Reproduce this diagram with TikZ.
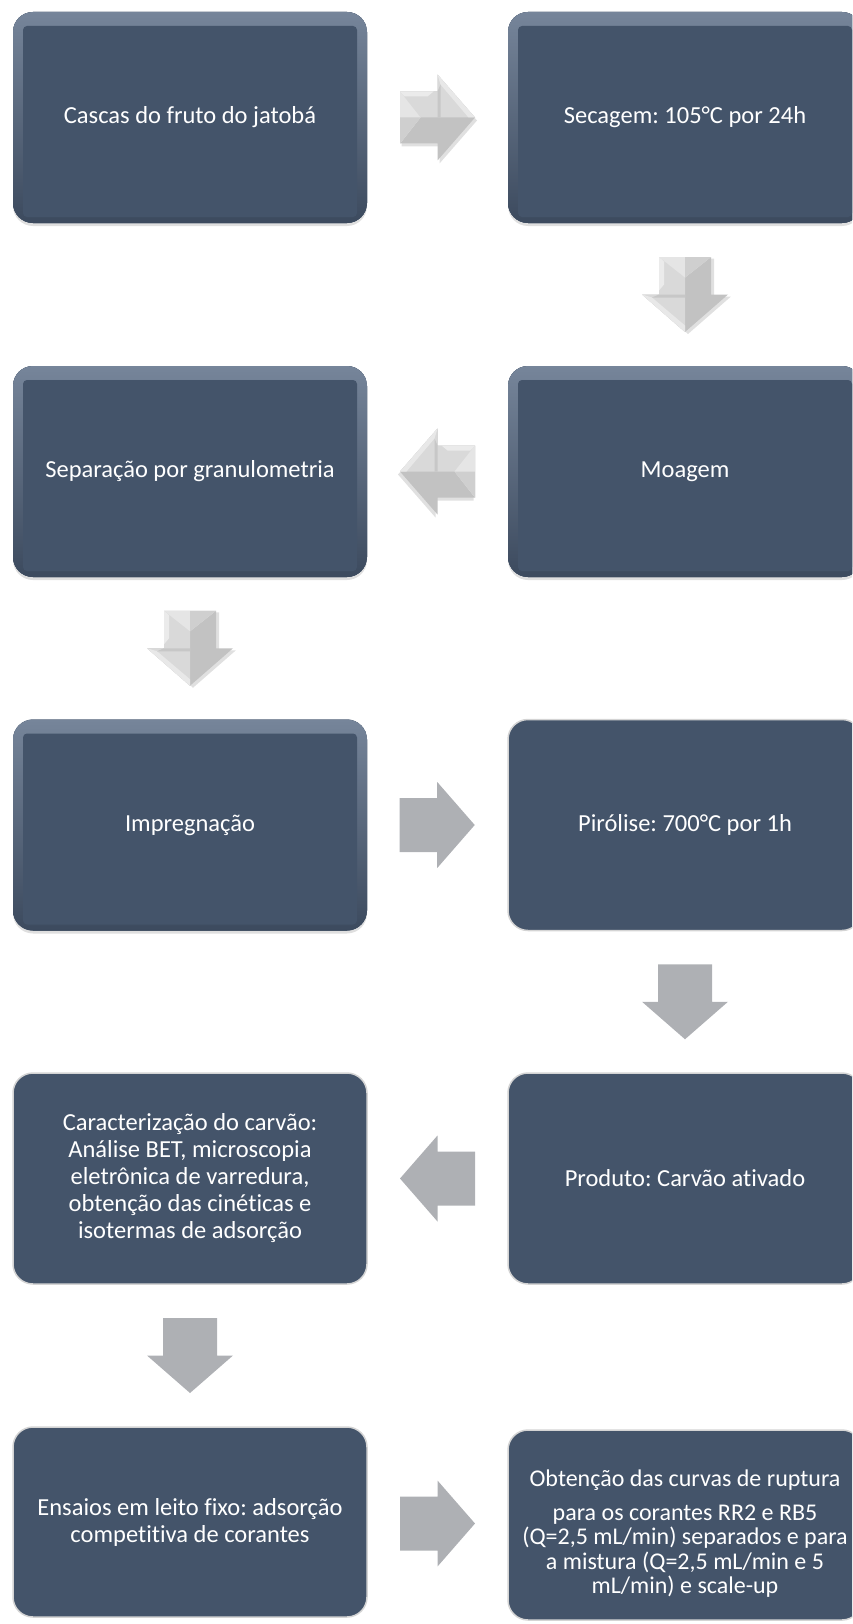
\documentclass[tikz,border=0pt]{standalone}
\usepackage{fontspec}
\setmainfont{Carlito}[Ligatures=NoCommon]
\frenchspacing
\usetikzlibrary{calc,shadows}
\definecolor{ardosia}{RGB}{68,84,106}
\definecolor{ardosiaclara}{RGB}{118,133,154}
\definecolor{ardosiaescura}{RGB}{60,74,94}
\definecolor{seta}{RGB}{174,176,180}
\definecolor{borda}{RGB}{212,212,212}

\tikzset{
  caixa/.style={fill=ardosia, rounded corners=20pt, minimum width=354pt, minimum height=211pt,
    align=center, text=white, font=\fontsize{24.5}{27}\selectfont},
  plana/.style={caixa, draw=borda, line width=1.5pt},
  relevo/.style={caixa, drop shadow={opacity=0.25, shadow xshift=0pt, shadow yshift=-3pt},
    path picture={
      \fill[top color=ardosiaclara, middle color=ardosia, bottom color=ardosiaescura]
        (path picture bounding box.south west) rectangle (path picture bounding box.north east);
      \fill[ardosia, rounded corners=4pt]
        ([shift={(10pt,-14pt)}]path picture bounding box.north west) rectangle
        ([shift={(-10pt,6pt)}]path picture bounding box.south east);
    }},
  pics/setaplana/.style={code={
    \fill[seta] (-37.5,-27) -- (0,-27) -- (0,-43) -- (37.5,0) -- (0,43) -- (0,27) -- (-37.5,27) -- cycle;
  }},
  pics/setarelevo/.style={code={
    \fill[black, opacity=0.12] (-36,-23) -- (2,-23) -- (2,-40) -- (39.5,3) -- (2,46) -- (2,29) -- (-36,29) -- cycle;
    \fill[black!24] (-37.5,-26) -- (0,-26) -- (0,-43) -- (37.5,0) -- (0,43) -- (0,26) -- (-37.5,26) -- cycle;
    \fill[black!15] (-37.5,-26) -- (0,-26) -- (0,-43) -- (37.5,0) -- (-37.5,0) -- cycle;
    \fill[black!10] (-37.5,-26) -- (-17,0) -- (-37.5,26) -- cycle;
    \fill[black!19] (-37.5,0) -- (-17,0) -- (-37.5,26) -- cycle;
    \fill[black!8] (-37.5,-26) -- (-4,-26) -- (-10,-21) -- (-33,-21) -- cycle;
    \fill[black!9] (0,-43) -- (37.5,0) -- (31,0) -- (3,-33) -- cycle;
    \fill[black!22] (0,-26) -- (3,-33) -- (3,0) -- (0,0) -- cycle;
  }}
}

\begin{document}
\begin{tikzpicture}[x=1pt,y=-1pt]
\useasboundingbox (0,0) rectangle (852,1624);
\clip (0,0) rectangle (852,1624);

\node[relevo] (casca) at (190,117.5) {Cascas do fruto do jatobá};
\node[relevo] (secagem) at (685,117.5) {Secagem: 105°C por 24h};
\node[relevo] (moagem) at (685,471.5) {Moagem};
\node[relevo] (separacao) at (190,471.5) {Separação por granulometria};
\node[relevo] (impregnacao) at (190,825) {Impregnação};
\node[plana] (pirolise) at (685,825) {Pirólise: 700°C por 1h};
\node[plana] (produto) at (685,1178.5) {Produto: Carvão ativado};
\node[plana] (caracterizacao) at (190,1178.5) {Caracterização do carvão:\\ Análise BET, microscopia\\ eletrônica de varredura,\\ obtenção das cinéticas e\\ isotermas de adsorção};
\node[plana, minimum height=190pt] (ensaios) at (190,1522) {Ensaios em leito fixo: adsorção\\ competitiva de corantes};
\node[plana, minimum height=190pt, font=\fontsize{24}{24.5}\selectfont] (curvas) at (685,1525) {\rule{0pt}{34pt}Obtenção das curvas de ruptura\\[9pt] para os corantes RR2 e RB5\\ (Q=2,5 mL/min) separados e para\\ a mistura (Q=2,5 mL/min e 5\\ mL/min) e scale-up};

\pic at ($(casca.east)!0.5!(secagem.west)$) {setarelevo};
\pic[rotate=-90, yscale=-1] at ($(secagem.south)!0.5!(moagem.north)$) {setarelevo};
\pic[xscale=-1] at ($(moagem.west)!0.5!(separacao.east)$) {setarelevo};
\pic[rotate=-90, yscale=-1] at ($(separacao.south)!0.5!(impregnacao.north)$) {setarelevo};
\pic at ($(impregnacao.east)!0.5!(pirolise.west)$) {setaplana};
\pic[rotate=-90] at ($(pirolise.south)!0.5!(produto.north)$) {setaplana};
\pic[xscale=-1] at ($(produto.west)!0.5!(caracterizacao.east)$) {setaplana};
\pic[rotate=-90] at ($(caracterizacao.south)!0.5!(ensaios.north)$) {setaplana};
\pic at ($(ensaios.east)!0.5!(curvas.west)$) {setaplana};
\end{tikzpicture}
\end{document}
